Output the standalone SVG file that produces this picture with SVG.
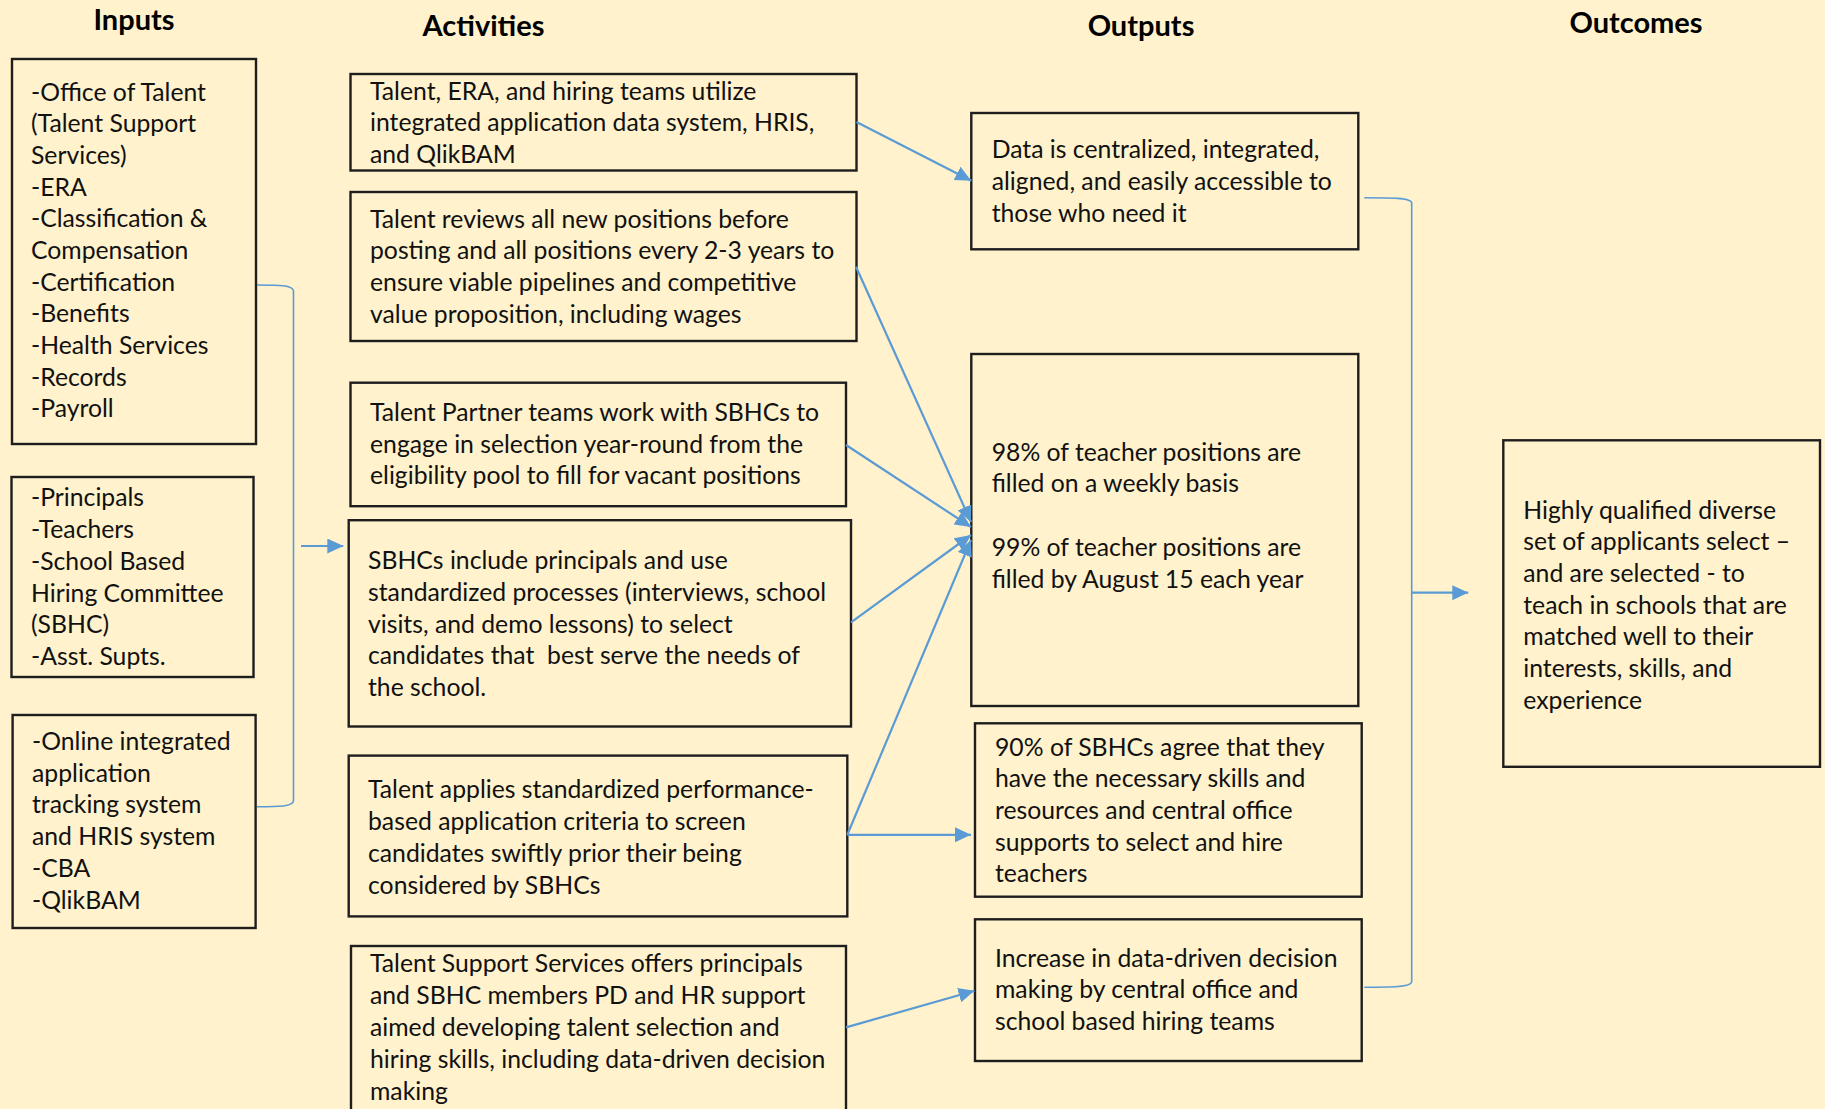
<svg xmlns="http://www.w3.org/2000/svg" width="1825" height="1109" viewBox="0 0 1825 1109">
  <style>
    .box { fill: none; stroke: #1e1e1e; stroke-width: 2.4; }
    .t { font-family: Lato, "Open Sans", sans-serif; font-size: 24.75px; fill: #111; }
    .h { font-family: Lato, "Open Sans", sans-serif; font-size: 29px; font-weight: bold; fill: #000; text-anchor: middle; }
    .arr { fill: none; stroke: #5b9bd5; stroke-width: 2.2; marker-end: url(#head); }
    .brk { fill: none; stroke: #5b9bd5; stroke-width: 1.6; }
  </style>
  <defs>
    <marker id="head" viewBox="0 0 16 15" refX="16" refY="7.5" markerWidth="16" markerHeight="15" markerUnits="userSpaceOnUse" orient="auto">
      <path d="M0,0 L16,7.5 L0,15 z" fill="#5b9bd5"/>
    </marker>
  </defs>

  <rect x="0" y="0" width="1825" height="1109" fill="#fff2cc"/>

  <!-- column headings -->
  <g id="headings">
    <text class="h" x="134" y="30">Inputs</text>
    <text class="h" x="483.5" y="36">Activities</text>
    <text class="h" x="1141" y="36">Outputs</text>
    <text class="h" x="1636" y="32.5">Outcomes</text>
  </g>

  <!-- inputs -->
  <g id="input-offices">
    <rect class="box" x="12" y="59" width="244" height="385"/>
    <text class="t">
      <tspan x="31" y="100.5">-Office of Talent</tspan>
      <tspan x="31" y="132.2">(Talent Support</tspan>
      <tspan x="31" y="163.8">Services)</tspan>
      <tspan x="31" y="195.5">-ERA</tspan>
      <tspan x="31" y="227.2">-Classification &amp;</tspan>
      <tspan x="31" y="258.8">Compensation</tspan>
      <tspan x="31" y="290.5">-Certification</tspan>
      <tspan x="31" y="322.2">-Benefits</tspan>
      <tspan x="31" y="353.8">-Health Services</tspan>
      <tspan x="31" y="385.5">-Records</tspan>
      <tspan x="31" y="417.2">-Payroll</tspan>
    </text>
  </g>
  <g id="input-people">
    <rect class="box" x="11.5" y="477" width="242" height="200"/>
    <text class="t">
      <tspan x="31" y="506.2">-Principals</tspan>
      <tspan x="31" y="537.9">-Teachers</tspan>
      <tspan x="31" y="569.7">-School Based</tspan>
      <tspan x="31" y="601.5">Hiring Committee</tspan>
      <tspan x="31" y="633.3">(SBHC)</tspan>
      <tspan x="31" y="665.1">-Asst. Supts.</tspan>
    </text>
  </g>
  <g id="input-systems">
    <rect class="box" x="12.6" y="715" width="243" height="213"/>
    <text class="t">
      <tspan x="32" y="749.8">-Online integrated</tspan>
      <tspan x="32" y="781.6">application</tspan>
      <tspan x="32" y="813.4">tracking system</tspan>
      <tspan x="32" y="845.2">and HRIS system</tspan>
      <tspan x="32" y="877">-CBA</tspan>
      <tspan x="32" y="908.8">-QlikBAM</tspan>
    </text>
  </g>

  <!-- activities -->
  <g id="activity-data-systems">
    <rect class="box" x="350.5" y="74" width="506" height="96.5"/>
    <text class="t">
      <tspan x="370" y="99.5">Talent, ERA, and hiring teams utilize</tspan>
      <tspan x="370" y="131.2">integrated application data system, HRIS,</tspan>
      <tspan x="370" y="162.9">and QlikBAM</tspan>
    </text>
  </g>
  <g id="activity-position-review">
    <rect class="box" x="350.5" y="192" width="506" height="149"/>
    <text class="t">
      <tspan x="370" y="227.5">Talent reviews all new positions before</tspan>
      <tspan x="370" y="259.2">posting and all positions every 2-3 years to</tspan>
      <tspan x="370" y="290.9">ensure viable pipelines and competitive</tspan>
      <tspan x="370" y="322.6">value proposition, including wages</tspan>
    </text>
  </g>
  <g id="activity-talent-partner">
    <rect class="box" x="350.5" y="382.7" width="495.5" height="123.5"/>
    <text class="t">
      <tspan x="370" y="421.2">Talent Partner teams work with SBHCs to</tspan>
      <tspan x="370" y="452.5">engage in selection year-round from the</tspan>
      <tspan x="370" y="483.8">eligibility pool to fill for vacant positions</tspan>
    </text>
  </g>
  <g id="activity-sbhc-process">
    <rect class="box" x="348.7" y="520.2" width="502.3" height="206.3"/>
    <text class="t">
      <tspan x="368" y="569.2">SBHCs include principals and use</tspan>
      <tspan x="368" y="600.9">standardized processes (interviews, school</tspan>
      <tspan x="368" y="632.6">visits, and demo lessons) to select</tspan>
      <tspan x="368" y="664.3">candidates that&#160; best serve the needs of</tspan>
      <tspan x="368" y="696">the school.</tspan>
    </text>
  </g>
  <g id="activity-screening">
    <rect class="box" x="348.7" y="755.6" width="498.6" height="160.8"/>
    <text class="t">
      <tspan x="368" y="797.6">Talent applies standardized performance-</tspan>
      <tspan x="368" y="829.5">based application criteria to screen</tspan>
      <tspan x="368" y="861.5">candidates swiftly prior their being</tspan>
      <tspan x="368" y="893.5">considered by SBHCs</tspan>
    </text>
  </g>
  <g id="activity-support-services">
    <rect class="box" x="351" y="946" width="495" height="200"/>
    <text class="t">
      <tspan x="370" y="972.4">Talent Support Services offers principals</tspan>
      <tspan x="370" y="1004.2">and SBHC members PD and HR support</tspan>
      <tspan x="370" y="1036">aimed developing talent selection and</tspan>
      <tspan x="370" y="1068">hiring skills, including data-driven decision</tspan>
      <tspan x="370" y="1100">making</tspan>
    </text>
  </g>

  <!-- outputs -->
  <g id="output-data">
    <rect class="box" x="971.3" y="113" width="387" height="136.3"/>
    <text class="t">
      <tspan x="991.7" y="157.8">Data is centralized, integrated,</tspan>
      <tspan x="991.7" y="190">aligned, and easily accessible to</tspan>
      <tspan x="991.7" y="222.2">those who need it</tspan>
    </text>
  </g>
  <g id="output-positions">
    <rect class="box" x="971.3" y="354" width="387" height="352"/>
    <text class="t">
      <tspan x="991.7" y="460.5">98% of teacher positions are</tspan>
      <tspan x="991.7" y="492.2">filled on a weekly basis</tspan>
      <tspan x="991.7" y="555.9">99% of teacher positions are</tspan>
      <tspan x="991.7" y="587.7">filled by August 15 each year</tspan>
    </text>
  </g>
  <g id="output-sbhc-skills">
    <rect class="box" x="975" y="723.3" width="386.7" height="173.4"/>
    <text class="t">
      <tspan x="995" y="755.5">90% of SBHCs agree that they</tspan>
      <tspan x="995" y="787.2">have the necessary skills and</tspan>
      <tspan x="995" y="818.8">resources and central office</tspan>
      <tspan x="995" y="850.5">supports to select and hire</tspan>
      <tspan x="995" y="882.2">teachers</tspan>
    </text>
  </g>
  <g id="output-data-decisions">
    <rect class="box" x="975" y="919.3" width="386.7" height="141.7"/>
    <text class="t">
      <tspan x="995" y="966.5">Increase in data-driven decision</tspan>
      <tspan x="995" y="998.2">making by central office and</tspan>
      <tspan x="995" y="1030">school based hiring teams</tspan>
    </text>
  </g>

  <!-- outcome -->
  <g id="outcome">
    <rect class="box" x="1503.3" y="440.3" width="316.7" height="326.5"/>
    <text class="t">
      <tspan x="1523.3" y="518.5">Highly qualified diverse</tspan>
      <tspan x="1523.3" y="550.2">set of applicants select –</tspan>
      <tspan x="1523.3" y="581.9">and are selected - to</tspan>
      <tspan x="1523.3" y="613.6">teach in schools that are</tspan>
      <tspan x="1523.3" y="645.3">matched well to their</tspan>
      <tspan x="1523.3" y="677">interests, skills, and</tspan>
      <tspan x="1523.3" y="708.7">experience</tspan>
    </text>
  </g>

  <!-- connectors -->
  <g id="connectors">
    <path class="brk" d="M257,285 C278,285 293.5,285 293.5,291 V800.5 C293.5,806.7 278,806.7 257,806.7"/>
    <path class="arr" d="M301,546 H343.3"/>
    <path class="arr" d="M856.5,122 L971.3,180.7"/>
    <path class="arr" d="M856,266.7 L971,522"/>
    <path class="arr" d="M846,445 L971,527"/>
    <path class="arr" d="M851,622.3 L971,535"/>
    <path class="arr" d="M847.3,834.8 L971,540"/>
    <path class="arr" d="M847.3,834.8 H971"/>
    <path class="arr" d="M846,1027.4 L974.5,990.7"/>
    <path class="brk" d="M1364.3,197.7 C1390,197.7 1411.7,197.7 1411.7,203 V981.5 C1411.7,987.3 1390,987.3 1364.3,987.3"/>
    <path class="arr" d="M1411.7,592.7 H1468.3"/>
  </g>
</svg>
